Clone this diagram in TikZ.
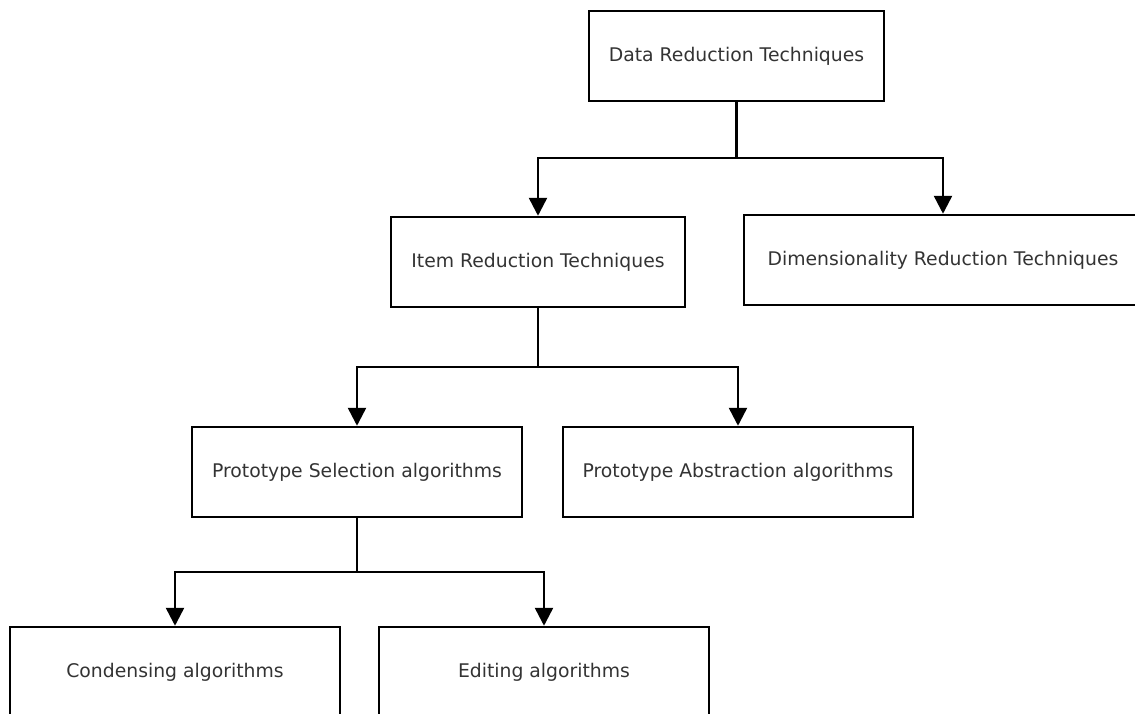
\documentclass[tikz,border=0pt]{standalone}
\usepackage{fontspec}
\setmainfont{DejaVu Sans}
\usetikzlibrary{arrows.meta}
\begin{document}
\begin{tikzpicture}[x=1pt,y=-1pt,
  box/.style={draw=black,line width=2.5pt,minimum height=90pt,inner sep=0pt,
    text=black!80,font=\fontsize{18.8}{22}\selectfont},
  conn/.style={draw=black,line width=2.5pt,line cap=rect},
  arr/.style={conn,-{Triangle[length=18pt,width=18pt]}}]
\useasboundingbox (0,0) rectangle (1135,713);
\node[box,minimum width=295pt] (data) at (736.5,56) {Data Reduction Techniques};
\node[box,minimum width=294pt] (item) at (538,262) {Item Reduction Techniques};
\node[box,minimum width=398pt] (dim) at (943,260) {Dimensionality Reduction Techniques};
\node[box,minimum width=330pt] (sel) at (357,472) {Prototype Selection algorithms};
\node[box,minimum width=350pt] (abs) at (738,472) {Prototype Abstraction algorithms};
\node[box,minimum width=330pt] (cond) at (175,672) {Condensing algorithms};
\node[box,minimum width=330pt] (edit) at (544,672) {Editing algorithms};
\coordinate (j1) at (736.5,158);
\coordinate (j2) at (538,367);
\coordinate (j3) at (357,572);
\draw[conn] (data.south) -- (j1);
\draw[arr] (j1) -| (item.north);
\draw[arr] (j1) -| (dim.north);
\draw[conn] (item.south) -- (j2);
\draw[arr] (j2) -| (sel.north);
\draw[arr] (j2) -| (abs.north);
\draw[conn] (sel.south) -- (j3);
\draw[arr] (j3) -| (cond.north);
\draw[arr] (j3) -| (edit.north);
\end{tikzpicture}
\end{document}
